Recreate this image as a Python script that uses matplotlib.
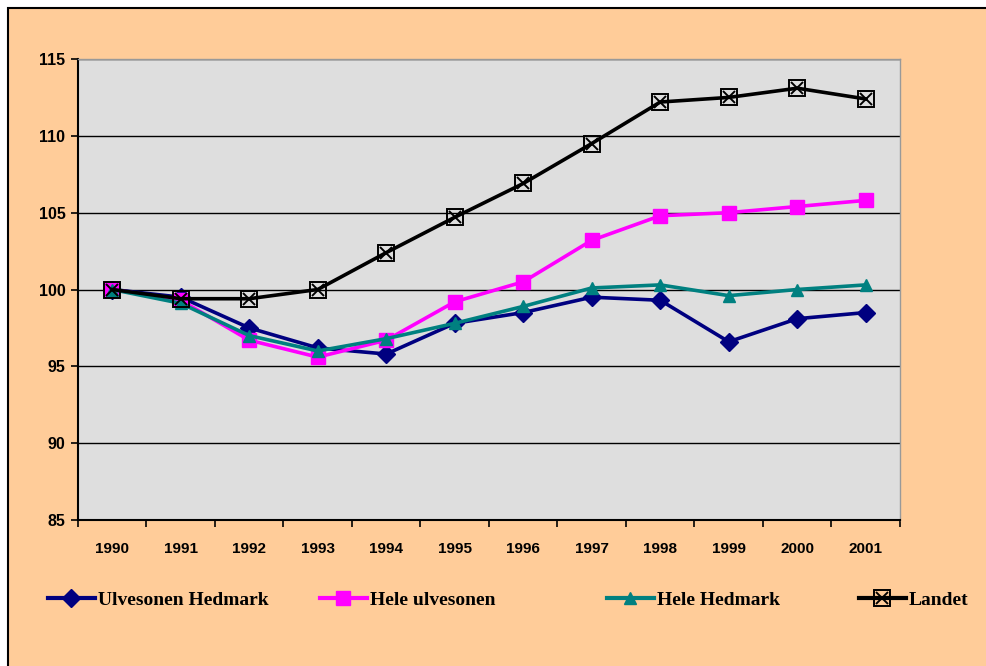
import matplotlib.pyplot as plt
from matplotlib.patches import Rectangle
from matplotlib.legend_handler import HandlerTuple

years = ['1990', '1991', '1992', '1993', '1994', '1995', '1996', '1997', '1998', '1999', '2000', '2001']
ulvesonen_hedmark = [100, 99.5, 97.5, 96.2, 95.8, 97.8, 98.5, 99.5, 99.3, 96.6, 98.1, 98.5]
hele_ulvesonen = [100, 99.3, 96.7, 95.6, 96.7, 99.2, 100.5, 103.2, 104.8, 105.0, 105.4, 105.8]
hele_hedmark = [100, 99.1, 97.0, 96.0, 96.8, 97.8, 98.9, 100.1, 100.3, 99.6, 100.0, 100.3]
landet = [100, 99.4, 99.4, 100.0, 102.4, 104.7, 106.9, 109.5, 112.2, 112.5, 113.1, 112.4]

plt.rcParams['font.family'] = 'Liberation Sans'
plt.rcParams['font.weight'] = 'bold'

fig = plt.figure(figsize=(9.87, 6.66), dpi=100)
fig.patch.set_facecolor('white')
fig.patches.append(Rectangle((8 / 987, -0.01), 1.0, 1 - 8 / 666 + 0.01, transform=fig.transFigure,
                             facecolor='#FFCC99', edgecolor='black', linewidth=1.5, zorder=-5))

ax = fig.add_axes([78 / 987, 1 - 520 / 666, (900 - 78) / 987, (520 - 59) / 666])
ax.set_zorder(1)
ax.set_facecolor('#DEDEDE')
x = list(range(len(years)))

l1, = ax.plot(x, ulvesonen_hedmark, color='#000080', lw=2.6, marker='D', ms=9, zorder=3)
l2, = ax.plot(x, hele_ulvesonen, color='#FF00FF', lw=2.6, marker='s', ms=10, zorder=3)
l3, = ax.plot(x, hele_hedmark, color='#008080', lw=2.6, marker='^', ms=9, zorder=3)
l4, = ax.plot(x, landet, color='black', lw=2.6, marker='s', ms=11, mfc='none', mec='black', mew=1.4, zorder=4)
l4x, = ax.plot(x, landet, color='none', marker='x', ms=9, mec='black', mew=1.4, zorder=4)

ax.set_xlim(-0.5, len(years) - 0.5)
ax.set_ylim(85, 115)
ax.set_yticks([85, 90, 95, 100, 105, 110, 115])
ax.yaxis.grid(True, color='black', lw=1)
ax.set_axisbelow(True)
ax.set_xticks([i + 0.5 for i in range(-1, len(years))], minor=False)
ax.set_xticklabels([])
ax.set_xticks(x, minor=True)
ax.set_xticklabels(years, minor=True)
ax.tick_params(axis='x', which='minor', length=0, pad=16, labelsize=11)
ax.tick_params(axis='x', which='major', length=5, width=1.2, direction='out')
ax.tick_params(axis='y', length=5, width=1.2, direction='out', pad=4, labelsize=11.5)
for s in ['left', 'bottom']:
    ax.spines[s].set_color('black')
    ax.spines[s].set_linewidth(1.5)
for s in ['top', 'right']:
    ax.spines[s].set_color('#999999')
    ax.spines[s].set_linewidth(1)

entries = [(l1, 'Ulvesonen Hedmark', 48), (l2, 'Hele ulvesonen', 320), (l3, 'Hele Hedmark', 607), ((l4, l4x), 'Landet', 859)]
for h, name, px in entries:
    leg = fig.legend([h], [name], loc='center left', bbox_to_anchor=(px / 987, 1 - 600 / 666),
                     frameon=False, handlelength=2.4, handletextpad=0.15, borderpad=0, borderaxespad=0,
                     handler_map={tuple: HandlerTuple(ndivide=1, pad=0)},
                     prop={'family': 'Liberation Serif', 'weight': 'bold', 'size': 14})
    for line in leg.get_lines():
        line.set_linewidth(3)

fig.savefig('out.png', dpi=100, facecolor=fig.get_facecolor())
